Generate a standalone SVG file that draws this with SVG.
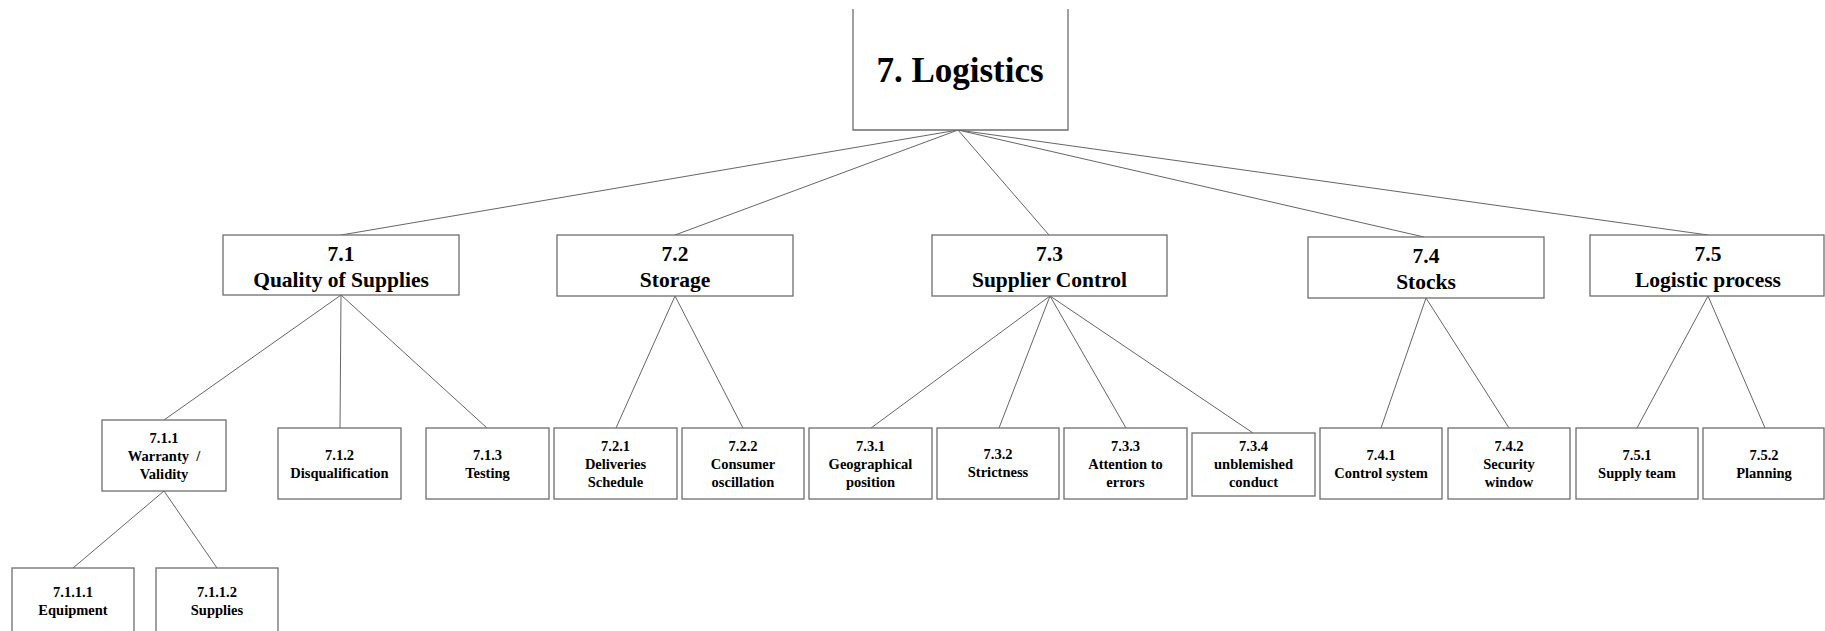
<svg xmlns="http://www.w3.org/2000/svg" width="1825" height="631" viewBox="0 0 1825 631">
  <style>
    .box { fill: #ffffff; stroke: #6e6e6e; stroke-width: 1.3; }
    .link { stroke: #666666; stroke-width: 1; fill: none; }
    text { font-family: "Liberation Serif", "Times New Roman", serif; font-weight: bold; fill: #000000; text-anchor: middle; }
    .t0 { font-size: 35px; }
    .t1 { font-size: 21.5px; }
    .t2 { font-size: 14.5px; }
  </style>
  <rect width="1825" height="631" fill="#ffffff"/>

  <g id="connectors">
    <line class="link" x1="958" y1="130" x2="341" y2="235"/>
    <line class="link" x1="958" y1="130" x2="675" y2="235"/>
    <line class="link" x1="958" y1="130" x2="1049" y2="235"/>
    <line class="link" x1="958" y1="130" x2="1424" y2="237"/>
    <line class="link" x1="958" y1="130" x2="1708" y2="235"/>

    <line class="link" x1="341" y1="295" x2="164" y2="420"/>
    <line class="link" x1="341" y1="295" x2="340" y2="428"/>
    <line class="link" x1="341" y1="295" x2="487" y2="428"/>

    <line class="link" x1="675" y1="296" x2="616" y2="428"/>
    <line class="link" x1="675" y1="296" x2="743" y2="428"/>

    <line class="link" x1="1050" y1="296" x2="871" y2="428"/>
    <line class="link" x1="1050" y1="296" x2="999" y2="428"/>
    <line class="link" x1="1050" y1="296" x2="1126" y2="428"/>
    <line class="link" x1="1050" y1="296" x2="1253" y2="433"/>

    <line class="link" x1="1426" y1="298" x2="1381" y2="428"/>
    <line class="link" x1="1426" y1="298" x2="1509" y2="428"/>

    <line class="link" x1="1708" y1="296" x2="1637" y2="428"/>
    <line class="link" x1="1708" y1="296" x2="1765" y2="428"/>

    <line class="link" x1="164" y1="491" x2="73" y2="568"/>
    <line class="link" x1="164" y1="491" x2="217" y2="568"/>
  </g>

  <g id="n7">
    <rect x="853" y="9" width="215" height="121" fill="#ffffff"/>
    <path class="box" d="M853,9 V130 H1068 V9"/>
    <text class="t0" x="960" y="82">7. Logistics</text>
  </g>

  <g id="n7-1">
    <rect class="box" x="223" y="235" width="236" height="60"/>
    <text class="t1" x="341" y="261">7.1</text>
    <text class="t1" x="341" y="287">Quality of Supplies</text>
  </g>
  <g id="n7-2">
    <rect class="box" x="557" y="235" width="236" height="61"/>
    <text class="t1" x="675" y="261">7.2</text>
    <text class="t1" x="675" y="287">Storage</text>
  </g>
  <g id="n7-3">
    <rect class="box" x="932" y="235" width="235" height="61"/>
    <text class="t1" x="1049.5" y="261">7.3</text>
    <text class="t1" x="1049.5" y="287">Supplier Control</text>
  </g>
  <g id="n7-4">
    <rect class="box" x="1308" y="237" width="236" height="61"/>
    <text class="t1" x="1426" y="263">7.4</text>
    <text class="t1" x="1426" y="289">Stocks</text>
  </g>
  <g id="n7-5">
    <rect class="box" x="1590" y="235" width="234" height="61"/>
    <text class="t1" x="1708" y="261">7.5</text>
    <text class="t1" x="1708" y="287">Logistic process</text>
  </g>

  <g id="n7-1-1">
    <rect class="box" x="102" y="420" width="124" height="71"/>
    <text class="t2" x="164" y="443">7.1.1</text>
    <text class="t2" x="164" y="461" xml:space="preserve">Warranty  /</text>
    <text class="t2" x="164" y="479">Validity</text>
  </g>
  <g id="n7-1-2">
    <rect class="box" x="278" y="428" width="123" height="71"/>
    <text class="t2" x="339.5" y="460">7.1.2</text>
    <text class="t2" x="339.5" y="478">Disqualification</text>
  </g>
  <g id="n7-1-3">
    <rect class="box" x="426" y="428" width="123" height="71"/>
    <text class="t2" x="487.5" y="460">7.1.3</text>
    <text class="t2" x="487.5" y="478">Testing</text>
  </g>
  <g id="n7-2-1">
    <rect class="box" x="554" y="428" width="123" height="71"/>
    <text class="t2" x="615.5" y="451">7.2.1</text>
    <text class="t2" x="615.5" y="469">Deliveries</text>
    <text class="t2" x="615.5" y="487">Schedule</text>
  </g>
  <g id="n7-2-2">
    <rect class="box" x="682" y="428" width="122" height="71"/>
    <text class="t2" x="743" y="451">7.2.2</text>
    <text class="t2" x="743" y="469">Consumer</text>
    <text class="t2" x="743" y="487">oscillation</text>
  </g>
  <g id="n7-3-1">
    <rect class="box" x="809" y="428" width="123" height="71"/>
    <text class="t2" x="870.5" y="451">7.3.1</text>
    <text class="t2" x="870.5" y="469">Geographical</text>
    <text class="t2" x="870.5" y="487">position</text>
  </g>
  <g id="n7-3-2">
    <rect class="box" x="937" y="428" width="122" height="71"/>
    <text class="t2" x="998" y="459">7.3.2</text>
    <text class="t2" x="998" y="477">Strictness</text>
  </g>
  <g id="n7-3-3">
    <rect class="box" x="1064" y="428" width="123" height="71"/>
    <text class="t2" x="1125.5" y="451">7.3.3</text>
    <text class="t2" x="1125.5" y="469">Attention to</text>
    <text class="t2" x="1125.5" y="487">errors</text>
  </g>
  <g id="n7-3-4">
    <rect class="box" x="1192" y="433" width="123" height="63"/>
    <text class="t2" x="1253.5" y="451">7.3.4</text>
    <text class="t2" x="1253.5" y="469">unblemished</text>
    <text class="t2" x="1253.5" y="487">conduct</text>
  </g>
  <g id="n7-4-1">
    <rect class="box" x="1320" y="428" width="122" height="71"/>
    <text class="t2" x="1381" y="460">7.4.1</text>
    <text class="t2" x="1381" y="478">Control system</text>
  </g>
  <g id="n7-4-2">
    <rect class="box" x="1448" y="428" width="122" height="71"/>
    <text class="t2" x="1509" y="451">7.4.2</text>
    <text class="t2" x="1509" y="469">Security</text>
    <text class="t2" x="1509" y="487">window</text>
  </g>
  <g id="n7-5-1">
    <rect class="box" x="1576" y="428" width="122" height="71"/>
    <text class="t2" x="1637" y="460">7.5.1</text>
    <text class="t2" x="1637" y="478">Supply team</text>
  </g>
  <g id="n7-5-2">
    <rect class="box" x="1703" y="428" width="121" height="71"/>
    <text class="t2" x="1764" y="460">7.5.2</text>
    <text class="t2" x="1764" y="478">Planning</text>
  </g>

  <g id="n7-1-1-1">
    <rect class="box" x="12" y="568" width="122" height="72"/>
    <text class="t2" x="73" y="597">7.1.1.1</text>
    <text class="t2" x="73" y="615">Equipment</text>
  </g>
  <g id="n7-1-1-2">
    <rect class="box" x="156" y="568" width="122" height="72"/>
    <text class="t2" x="217" y="597">7.1.1.2</text>
    <text class="t2" x="217" y="615">Supplies</text>
  </g>
</svg>
